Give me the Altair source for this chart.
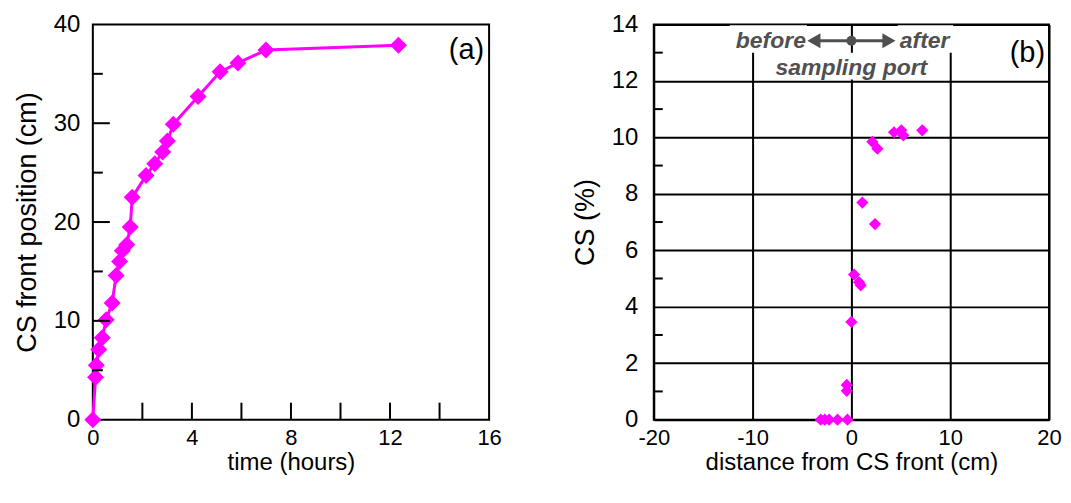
import altair as alt
import pandas as pd

# ---- panel (a) data ----
hours = [0, 0.11, 0.14, 0.24, 0.38, 0.54, 0.78, 0.94, 1.08, 1.19, 1.37, 1.51, 1.59,
         2.15, 2.5, 2.82, 3.01, 3.25, 4.25, 5.14, 5.86, 6.99, 12.34]
front_cm = [0, 4.3, 5.5, 7.1, 8.3, 10.1, 11.8, 14.6, 16.0, 17.1, 17.7, 19.5, 22.5,
            24.7, 25.9, 27.1, 28.2, 29.9, 32.7, 35.2, 36.1, 37.4, 37.9]

# ---- panel (b) data ----
dist_cm = [-3.1, -2.7, -2.25, -1.4, -0.4, -0.47, -0.47, 0.0, 0.27, 0.77, 0.94,
           1.11, 2.39, 2.12, 2.63, 4.31, 5.05, 5.25, 7.17]
cs_pct = [0, 0, 0, 0, 0, 1.23, 1.02, 3.46, 5.14, 4.87, 4.76,
          7.69, 6.93, 9.84, 9.6, 10.18, 10.25, 10.07, 10.25]

# ---- axis / tick values ----
a_x_labels = [0, 4, 8, 12, 16]
a_x_ticks = [2, 4, 6, 8, 10, 12, 14]
a_y_labels = [0, 10, 20, 30, 40]
a_y_major = [10, 20, 30]
a_y_minor = [5, 15, 25, 35]
b_x_labels = [-20, -10, 0, 10, 20]
b_y_labels = [0, 2, 4, 6, 8, 10, 12, 14]
b_y_minor = [1, 3, 5, 7, 9, 11, 13]

MAG = "#FF00FF"
GREY = "#505050"
FONT = "Liberation Sans"
W, H = 397, 396
HYPHEN = "datum.value < 0 ? '-' + abs(datum.value) : '' + datum.value"

df_a = pd.DataFrame({"hours": hours, "front": front_cm})
df_b = pd.DataFrame({"dist": dist_cm, "cs": cs_pct})

xa_scale = alt.Scale(domain=[0, 16], nice=False)
ya_scale = alt.Scale(domain=[0, 40], nice=False)
xb_scale = alt.Scale(domain=[-20, 20], nice=False)
yb_scale = alt.Scale(domain=[0, 14], nice=False)

common = dict(ticks=False, domain=False, labelFlush=False, labelOverlap=False)
ax_a_x = alt.Axis(values=a_x_labels, title="time (hours)", grid=False, labelFontSize=22,
                  labelPadding=8, titlePadding=2, titleFontSize=24, **common)
ax_a_y = alt.Axis(values=a_y_labels, title="CS front position (cm)", grid=False,
                  labelPadding=13, titlePadding=12, **common)
ax_b_x = alt.Axis(values=b_x_labels, title="distance from CS front (cm)", grid=True, labelFontSize=22,
                  labelPadding=8, titlePadding=2, titleFontSize=24, labelExpr=HYPHEN, **common)
ax_b_y = alt.Axis(values=b_y_labels, title="CS (%)", grid=True,
                  labelPadding=16, titlePadding=12, **common)


def XA(f):
    return alt.X(f, scale=xa_scale, axis=ax_a_x)


def YA(f):
    return alt.Y(f, scale=ya_scale, axis=ax_a_y)


def XB(f):
    return alt.X(f, scale=xb_scale, axis=ax_b_x)


def YB(f):
    return alt.Y(f, scale=yb_scale, axis=ax_b_y)


# ---------------- panel (a) ----------------
base_a = alt.Chart(df_a).encode(x=XA("hours:Q"), y=YA("front:Q"))
line_a = base_a.mark_line(color=MAG, strokeWidth=3)
pts_a = base_a.mark_point(shape="diamond", filled=True, color=MAG, size=290, opacity=1)

yt_major = alt.Chart(pd.DataFrame({"v": a_y_major})).mark_rule(color="black", strokeWidth=2).encode(
    y=YA("v:Q"), x=alt.value(0), x2=alt.value(17))
yt_minor = alt.Chart(pd.DataFrame({"v": a_y_minor})).mark_rule(color="black", strokeWidth=2).encode(
    y=YA("v:Q"), x=alt.value(0), x2=alt.value(10))
xt_a = alt.Chart(pd.DataFrame({"v": a_x_ticks})).mark_rule(color="black", strokeWidth=2).encode(
    x=XA("v:Q"), y=alt.value(H), y2=alt.value(H - 17))
lab_a = alt.Chart(pd.DataFrame({"x": [15.8], "y": [37.4], "t": ["(a)"]})).mark_text(
    align="right", baseline="middle", font=FONT, fontSize=29, color="black").encode(
    x=XA("x:Q"), y=YA("y:Q"), text="t:N")

panel_a = alt.layer(line_a, pts_a, yt_major, yt_minor, xt_a, lab_a).properties(width=W, height=H)

# ---------------- panel (b) ----------------
pts_b = alt.Chart(df_b).mark_point(shape="diamond", filled=True, color=MAG, size=150, opacity=1).encode(
    x=XB("dist:Q"), y=YB("cs:Q"))
yt_b = alt.Chart(pd.DataFrame({"v": b_y_minor})).mark_rule(color="black", strokeWidth=2).encode(
    y=YB("v:Q"), x=alt.value(0), x2=alt.value(9))

# annotation boxes (white backgrounds, data units)
boxes = pd.DataFrame({
    "x1": [-12.3, 4.7, -8.4],
    "x2": [-4.5, 10.3, 8.3],
    "y1": [13.0, 13.0, 12.05],
    "y2": [13.97, 13.97, 13.0],
})
box_b = alt.Chart(boxes).mark_rect(color="white").encode(
    x=XB("x1:Q"), x2="x2:Q", y=YB("y1:Q"), y2="y2:Q")

arrow_line = alt.Chart(pd.DataFrame({"x1": [-3.4], "x2": [3.4], "y": [13.42]})).mark_rule(
    color=GREY, strokeWidth=3).encode(x=XB("x1:Q"), x2="x2:Q", y=YB("y:Q"))
heads = pd.DataFrame({"x": [-3.8, 3.8], "y": [13.42, 13.42],
                      "s": ["triangle-left", "triangle-right"]})
arrow_heads = alt.Chart(heads).mark_point(filled=True, color=GREY, size=230, opacity=1).encode(
    x=XB("x:Q"), y=YB("y:Q"), shape=alt.Shape("s:N", scale=None))
dot = alt.Chart(pd.DataFrame({"x": [0.0], "y": [13.42]})).mark_point(
    filled=True, color=GREY, size=100, opacity=1, shape="circle").encode(x=XB("x:Q"), y=YB("y:Q"))

ann_x = [-4.6, 4.9, 0.0]
ann_y = [13.42, 13.42, 12.46]
ann_t = ["before", "after", "sampling port"]
ann_align = ["right", "left", "center"]
ann_layers = []
for ax_, ay_, at_, al_ in zip(ann_x, ann_y, ann_t, ann_align):
    ann_layers.append(
        alt.Chart(pd.DataFrame({"x": [ax_], "y": [ay_], "t": [at_]})).mark_text(
            align=al_, baseline="middle", font=FONT, fontSize=23, fontWeight="bold",
            fontStyle="italic", color=GREY).encode(x=XB("x:Q"), y=YB("y:Q"), text="t:N"))

lab_b = alt.Chart(pd.DataFrame({"x": [19.6], "y": [12.99], "t": ["(b)"]})).mark_text(
    align="right", baseline="middle", font=FONT, fontSize=29, color="black").encode(
    x=XB("x:Q"), y=YB("y:Q"), text="t:N")

panel_b = alt.layer(pts_b, yt_b, box_b, arrow_line, arrow_heads, dot, *ann_layers, lab_b).properties(
    width=W - 1, height=H)

chart = alt.hconcat(panel_a, panel_b, spacing=67).properties(
    padding={"left": 4, "top": 3, "right": 0, "bottom": 0}
).configure_view(stroke="black", strokeWidth=2).configure_axis(
    labelFont=FONT, labelFontSize=24, labelColor="black",
    titleFont=FONT, titleFontSize=27, titleFontWeight="normal", titleColor="black",
    gridColor="black", gridWidth=2, gridOpacity=1,
)

chart.save("out.html", embed_options={"renderer": "svg", "actions": False})
